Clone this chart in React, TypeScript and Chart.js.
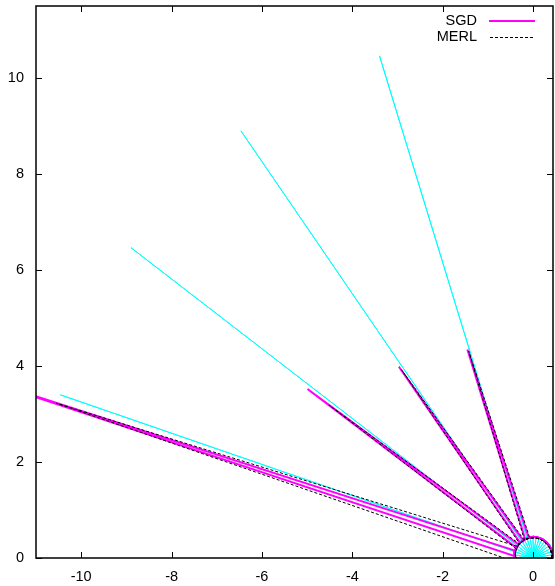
import React, { useEffect, useRef } from "react";
import { Chart, registerables } from "chart.js";

Chart.register(...registerables);

// ---- axes ----
const X_MIN = -11;
const X_MAX = 0.44;
const Y_MIN = 0;
const Y_MAX = 11.5;
const xTicks = [-10, -8, -6, -4, -2, 0];
const yTicks = [0, 2, 4, 6, 8, 10];

// ---- polar data: angle in degrees from the vertical (positive = toward -x), radius ----
const diffuseAngles = [-90, -80, -70, -60, -50, -40, -30, -20, -10, 0, 10, 20, 30, 40, 50, 60, 70, 80, 90];
const sgdDiffuseR = [0.44, 0.44, 0.44, 0.44, 0.44, 0.44, 0.44, 0.44, 0.44, 0.44, 0.43, 0.43, 0.43, 0.43, 0.43, 0.43, 0.43, 0.42, 0.4];
const merlDiffuseR = [0.42, 0.42, 0.42, 0.42, 0.42, 0.42, 0.42, 0.42, 0.42, 0.42, 0.42, 0.42, 0.42, 0.42, 0.42, 0.41, 0.41, 0.4, 0.38];

// SGD specular lobes (base, peak, base)
const sgdLobeAngles = [
  [13, 18.5, 24],
  [31, 36.7, 42],
  [49, 54.8, 60],
  [69, 73.0, 84],
];
const sgdLobeR = [
  [0.43, 4.58, 0.43],
  [0.43, 4.97, 0.43],
  [0.43, 6.11, 0.43],
  [0.43, 13.6, 0.43],
];

// MERL specular lobes (base, peak, base)
const merlLobeAngles = [
  [10, 18.3, 27],
  [28, 36.6, 45],
  [46, 54.8, 63],
  [55, 73.0, 90],
];
const merlLobeR = [
  [0.42, 4.54, 0.42],
  [0.42, 4.89, 0.42],
  [0.42, 5.53, 0.42],
  [0.42, 11.03, 0.64],
];

// cyan impulses (from the origin)
const cyanAngles = [-90, -81, -72, -63, -54, -45, -36, -27, -18, -9, 0, 9, 18, 27, 36, 45, 54, 63, 72, 81, 90];
const cyanR = [0.42, 0.44, 0.45, 0.46, 0.47, 0.46, 0.45, 0.44, 0.43, 0.42, 0.42, 0.42, 11.0, 0.42, 11.0, 0.42, 11.0, 0.41, 11.0, 0.4, 0.38];

const FONT = "Liberation Sans, Arial, Helvetica, sans-serif";

function toXY(angleDeg: number, r: number) {
  const a = (angleDeg * Math.PI) / 180;
  return { x: -r * Math.sin(a), y: r * Math.cos(a) };
}

function lobePoints(dA: number[], dR: number[], sA: number[], sR: number[]) {
  const pts: { x: number; y: number }[] = [];
  const lo = sA[0];
  const hi = sA[sA.length - 1];
  dA.forEach((a, i) => {
    if (a < lo) pts.push(toXY(a, dR[i]));
  });
  sA.forEach((a, i) => pts.push(toXY(a, sR[i])));
  dA.forEach((a, i) => {
    if (a > hi) pts.push(toXY(a, dR[i]));
  });
  return pts;
}

function impulsePoints(angles: number[], radii: number[]) {
  const pts: { x: number; y: number }[] = [];
  angles.forEach((a, i) => {
    pts.push({ x: 0, y: 0 });
    pts.push(toXY(a, radii[i]));
  });
  return pts;
}

const framePlugin = {
  id: "gnuplotFrame",
  afterDraw(chart: any) {
    const { ctx, chartArea } = chart;
    const { left, right, top, bottom } = chartArea;
    const xs = chart.scales.x;
    const ys = chart.scales.y;
    ctx.save();
    ctx.strokeStyle = "#000";
    ctx.lineWidth = 1.5;
    ctx.setLineDash([]);
    ctx.strokeRect(left, top, right - left, bottom - top);
    ctx.lineWidth = 1;
    const tl = 6;
    ctx.beginPath();
    xTicks.forEach((v) => {
      const px = Math.round(xs.getPixelForValue(v)) + 0.5;
      ctx.moveTo(px, bottom);
      ctx.lineTo(px, bottom - tl);
      ctx.moveTo(px, top);
      ctx.lineTo(px, top + tl);
    });
    yTicks.forEach((v) => {
      const py = Math.round(ys.getPixelForValue(v)) + 0.5;
      ctx.moveTo(left, py);
      ctx.lineTo(left + tl, py);
      ctx.moveTo(right, py);
      ctx.lineTo(right - tl, py);
    });
    ctx.stroke();

    // key
    ctx.font = `14.5px ${FONT}`;
    ctx.fillStyle = "#000";
    ctx.textAlign = "right";
    ctx.textBaseline = "middle";
    ctx.fillText("SGD", 477, 21);
    ctx.fillText("MERL", 477, 37);
    ctx.strokeStyle = "#ff00ff";
    ctx.lineWidth = 2;
    ctx.beginPath();
    ctx.moveTo(489, 21);
    ctx.lineTo(535, 21);
    ctx.stroke();
    ctx.strokeStyle = "#000";
    ctx.lineWidth = 1;
    ctx.setLineDash([3, 2]);
    ctx.beginPath();
    ctx.moveTo(490, 37.5);
    ctx.lineTo(535, 37.5);
    ctx.stroke();
    ctx.restore();
  },
};

export default function App() {
  const ref = useRef<HTMLCanvasElement | null>(null);

  useEffect(() => {
    document.body.style.margin = "0";
    const canvas = ref.current;
    if (!canvas) return;

    const datasets: any[] = [];
    merlLobeAngles.forEach((sA, i) => {
      datasets.push({
        label: i === 0 ? "MERL" : "",
        data: lobePoints(diffuseAngles, merlDiffuseR, sA, merlLobeR[i]),
        borderColor: "#000000",
        borderWidth: 1,
        borderDash: [3, 2],
        showLine: true,
        pointRadius: 0,
        order: 1,
      });
    });
    sgdLobeAngles.forEach((sA, i) => {
      datasets.push({
        label: i === 0 ? "SGD" : "",
        data: lobePoints(diffuseAngles, sgdDiffuseR, sA, sgdLobeR[i]),
        borderColor: "#ff00ff",
        borderWidth: 2,
        showLine: true,
        pointRadius: 0,
        order: 2,
      });
    });
    datasets.push({
      label: "",
      data: impulsePoints(cyanAngles, cyanR),
      borderColor: "#00ffff",
      borderWidth: 1,
      showLine: true,
      pointRadius: 0,
      order: 3,
    });

    const tickFont = { family: FONT, size: 14.5 };

    const chart = new Chart(canvas, {
      type: "scatter",
      data: { datasets },
      options: {
        responsive: false,
        animation: false,
        devicePixelRatio: 1,
        layout: { padding: { top: 6, right: 2, left: 0, bottom: 0 } },
        plugins: { legend: { display: false }, tooltip: { enabled: false } },
        elements: { line: { tension: 0 }, point: { radius: 0 } },
        scales: {
          x: {
            type: "linear",
            min: X_MIN,
            max: X_MAX,
            grid: { display: false, drawTicks: false },
            border: { display: false },
            ticks: {
              font: tickFont,
              color: "#000",
              padding: 10,
              maxRotation: 0,
              autoSkip: false,
              callback: (v: any) => String(v),
            },
            afterBuildTicks: (s: any) => {
              s.ticks = xTicks.map((v) => ({ value: v }));
            },
            afterFit: (s: any) => {
              s.height = 28;
              s.paddingLeft = 0;
              s.paddingRight = 0;
            },
          },
          y: {
            type: "linear",
            min: Y_MIN,
            max: Y_MAX,
            grid: { display: false, drawTicks: false },
            border: { display: false },
            ticks: {
              font: tickFont,
              color: "#000",
              padding: 12,
              autoSkip: false,
              callback: (v: any) => String(v),
            },
            afterBuildTicks: (s: any) => {
              s.ticks = yTicks.map((v) => ({ value: v }));
            },
            afterFit: (s: any) => {
              s.width = 36;
              s.paddingTop = 0;
              s.paddingBottom = 0;
            },
          },
        },
      },
      plugins: [framePlugin],
    });

    return () => chart.destroy();
  }, []);

  return (
    <canvas
      ref={ref}
      width={555}
      height={586}
      style={{ display: "block", width: 555, height: 586 }}
    />
  );
}
